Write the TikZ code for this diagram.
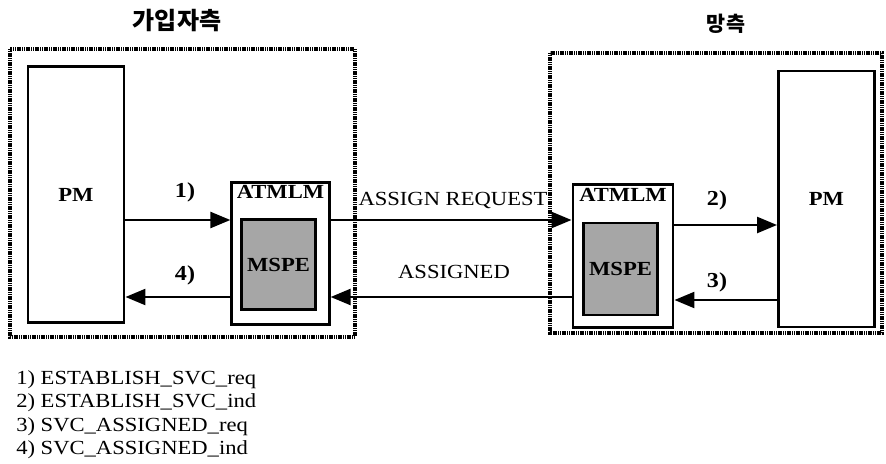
\documentclass[tikz,border=0pt]{standalone}
\usepackage{fontspec}
\setmainfont{Liberation Serif}[FakeStretch=1.13]
\newfontfamily\cjk{Noto Sans CJK KR}
\usepackage{tikz}
\usetikzlibrary{arrows.meta,positioning}

\begin{document}
\begin{tikzpicture}[
    x=0.75pt, y=-0.75pt,
    side/.style={draw, line width=3pt, dash pattern=on 0.9pt off 0.45pt},
    pmbox/.style={rectangle, draw, line width=2.2pt, minimum width=72pt, minimum height=192pt, font=\fontsize{15}{15}\selectfont\bfseries},
    atmbox/.style={rectangle, draw, line width=2.2pt, minimum width=73pt, minimum height=107pt},
    mspe/.style={rectangle, draw, line width=2.2pt, fill=black!35, minimum width=55pt, minimum height=67pt, font=\fontsize{15}{15}\selectfont\bfseries},
    atmtext/.style={font=\fontsize{15}{15}\selectfont\bfseries, inner sep=1pt},
    lbl/.style={font=\fontsize{16}{16}\selectfont\bfseries, inner sep=0pt},
    msg/.style={font=\fontsize{15}{15}\selectfont, inner sep=0pt},
    title/.style={font=\cjk\fontsize{16}{16}\selectfont\bfseries, inner sep=0pt},
    legend/.style={font=\fontsize{15}{15}\selectfont, inner sep=0pt, anchor=base west},
    arrow/.style={-{Triangle[length=15pt,width=12pt]}, line width=1.8pt}
]
\useasboundingbox (0,0) rectangle (886,464);

% Sides
\draw[side] (10,49) rectangle (355,337);
\draw[side] (550,53) rectangle (882,333);
\node[title, font=\cjk\fontsize{18}{18}\selectfont\bfseries] (tsub) at (177,21) {가입자측};
\node[title, font=\cjk\fontsize{15.5}{15.5}\selectfont\bfseries] (tnet) at (726,24) {망측};

% Subscriber side
\node[pmbox] (lpm) at (76,194.5) {PM};
\node[atmbox] (latm) at (280.5,253.5) {};
\node[atmtext, below=2.5pt of latm.north] (latmt) {ATMLM};
\node[mspe] (lmspe) at (278.5,264.5) {MSPE};

% Network side
\node[pmbox] (rpm) at (826.5,199) {PM};
\node[atmbox, minimum width=75pt] (ratm) at (623,256) {};
\node[atmtext, below=2.5pt of ratm.north] (ratmt) {ATMLM};
\node[mspe, minimum width=56pt, minimum height=69pt] (rmspe) at (620.5,269) {MSPE};

% Arrow levels
\coordinate (ltop) at (0,220);
\coordinate (lbot) at (0,297);
\coordinate (rtop) at (0,225);
\coordinate (rbot) at (0,300);

% Arrows
\draw[arrow] (lpm.east |- ltop) -- (latm.west |- ltop);
\draw[arrow] (latm.west |- lbot) -- (lpm.east |- lbot);
\draw[arrow] (latm.east |- ltop) -- (ratm.west |- ltop);
\draw[arrow] (ratm.west |- lbot) -- (latm.east |- lbot);
\draw[arrow] (ratm.east |- rtop) -- (rpm.west |- rtop);
\draw[arrow] (rpm.west |- rbot) -- (ratm.east |- rbot);

% Arrow labels
\node[lbl] (n1) at (185,192) {1)};
\node[lbl] (n4) at (185,275) {4)};
\node[lbl] (n2) at (717,200) {2)};
\node[lbl] (n3) at (717,282) {3)};
\node[msg] (req) at (453,200) {ASSIGN REQUEST};
\node[msg] (asg) at (454,272) {ASSIGNED};

% Legend
\node[legend] (leg1) at (16,384) {1) ESTABLISH\_SVC\_req};
\node[legend] (leg2) at (16,407) {2) ESTABLISH\_SVC\_ind};
\node[legend] (leg3) at (16,431) {3) SVC\_ASSIGNED\_req};
\node[legend] (leg4) at (16,454) {4) SVC\_ASSIGNED\_ind};
\end{tikzpicture}
\end{document}
